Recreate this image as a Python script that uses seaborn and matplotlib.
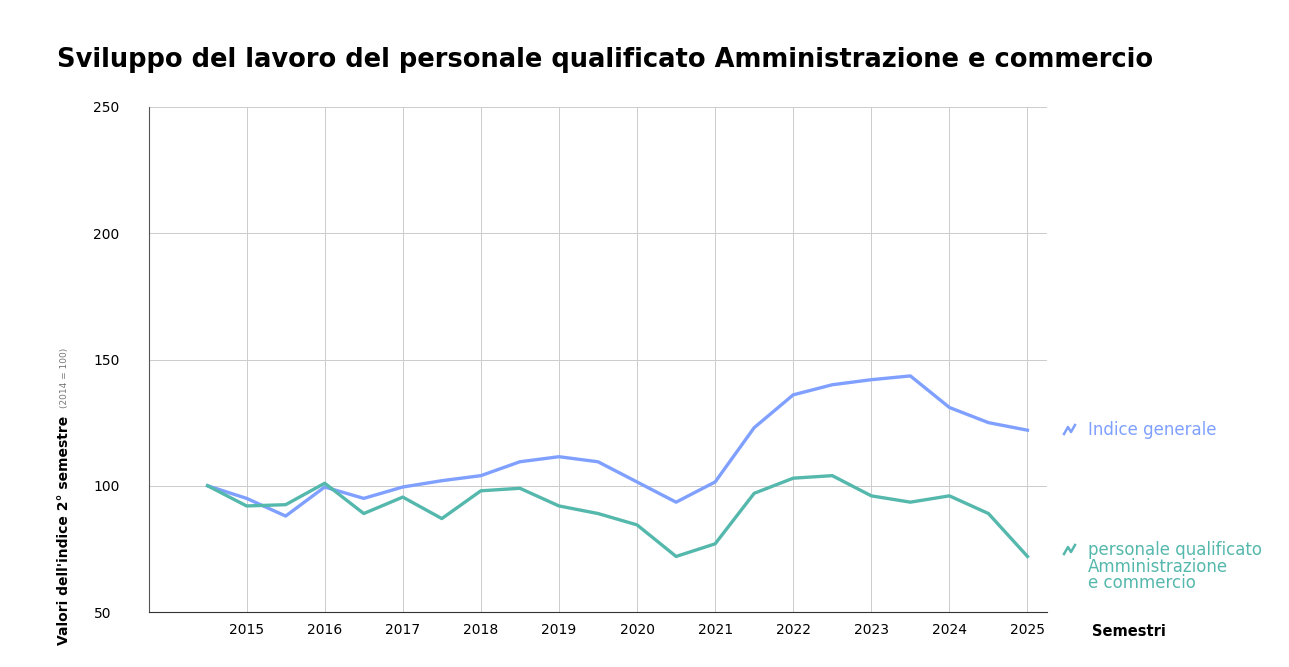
import matplotlib
matplotlib.use("Agg")
import matplotlib.pyplot as plt
import seaborn as sns
import pandas as pd
from matplotlib.lines import Line2D

periods = [2014.5 + 0.5 * i for i in range(22)]
indice_generale = [100, 95, 88, 99.5, 95, 99.5, 102, 104, 109.5, 111.5, 109.5, 101.5, 93.5,
                   101.5, 123, 136, 140, 142, 143.5, 131, 125, 122]
personale = [100, 92, 92.5, 101, 89, 95.5, 87, 98, 99, 92, 89, 84.5, 72, 77, 97, 103,
             104, 96, 93.5, 96, 89, 72]
years = list(range(2015, 2026))
yticks = [50, 100, 150, 200, 250]

blue = "#7fa0ff"
green = "#55b8ac"

df = pd.DataFrame({"x": periods * 2,
                   "y": indice_generale + personale,
                   "s": ["Indice generale"] * 22 + ["personale"] * 22})

fig = plt.figure(figsize=(12.89, 6.67), dpi=100)
ax = fig.add_axes([149/1289, 1-612/667, (1047-149)/1289, (612-107)/667])
sns.lineplot(data=df, x="x", y="y", hue="s", palette=[blue, green], linewidth=2.4,
             legend=False, ax=ax)
ax.set_xlim(2013.75, 2025.25)
ax.set_ylim(50, 250)
ax.set_xticks(years)
ax.set_xticklabels([str(y) for y in years], fontsize=10)
ax.set_yticks(yticks)
ax.set_yticklabels([str(v) for v in yticks], fontsize=10, ha="left")
ax.tick_params(length=0, pad=8)
ax.tick_params(axis="y", pad=40)
ax.grid(True, color="#cccccc", linewidth=0.7)
ax.set_axisbelow(True)
for s in ["top", "right"]:
    ax.spines[s].set_visible(False)
ax.spines["left"].set_color("#555555")
ax.spines["bottom"].set_color("#333333")
ax.set_xlabel("")
ax.set_ylabel("")

fig.text(57/1289, 1-60/667, "Sviluppo del lavoro del personale qualificato Amministrazione e commercio",
         fontsize=18.5, fontweight="bold", va="center")
fig.text(64/1289, 1-530/667, "Valori dell'indice 2° semestre", rotation=90, fontsize=10,
         fontweight="bold", ha="center", va="center")
fig.text(64/1289, 1-378/667, "(2014 = 100)", rotation=90, fontsize=6.5, color="#777777",
         ha="center", va="center")
fig.text(1092/1289, 1-631/667, "Semestri", fontsize=10.5, fontweight="bold", va="center")

def icon(x, y, c):
    xs = [x, x+4, x+7, x+11]
    ys = [y+4, y-3, y+2, y-5]
    fig.add_artist(Line2D([v/1289 for v in xs], [1-v/667 for v in ys], color=c, lw=1.8))

icon(1064, 430, blue)
fig.text(1088/1289, 1-430/667, "Indice generale", fontsize=12, color=blue, va="center")
icon(1064, 550, green)
fig.text(1088/1289, 1-541/667, "personale qualificato\nAmministrazione\ne commercio",
         fontsize=12, color=green, va="top", linespacing=0.9)

fig.savefig("out.png", dpi=100, facecolor="white")
